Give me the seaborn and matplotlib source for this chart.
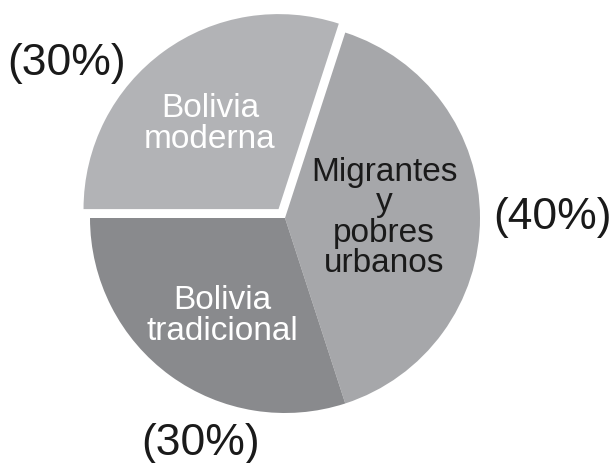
import matplotlib
matplotlib.use("Agg")
import matplotlib.pyplot as plt
import seaborn as sns

# data
groups = ["Bolivia\nmoderna", "Migrantes\ny\npobres\nurbanos", "Bolivia\ntradicional"]
shares = [30, 40, 30]
pct_labels = ["(30%)", "(40%)", "(30%)"]
colors = ["#b2b3b6", "#a6a7aa", "#898a8d"]
text_colors = ["white", "#1a1a1a", "white"]

sns.set_theme(style="white")
plt.rcParams["font.family"] = ["Liberation Sans", "DejaVu Sans"]

W, H = 613, 463
fig = plt.figure(figsize=(W / 100, H / 100), dpi=100)
ax = fig.add_axes([0, 0, 1, 1])

cx, cy, r = 285, H - 218, 195
# explode is in data units here (pixels), first slice pulled out
ax.pie(shares, colors=colors, explode=[11, 0, 0], startangle=180,
       counterclock=False, center=(cx, cy), radius=r,
       wedgeprops=dict(linewidth=0), frame=True)
ax.set_xlim(0, W)
ax.set_ylim(0, H)
ax.set_aspect("equal")
ax.axis("off")

# labels inside the wedges
inner_pos = [(210, 124), (384, 218), (222, 316)]
for (x, y), txt, tc in zip(inner_pos, groups, text_colors):
    ax.text(x, H - y, txt, ha="center", va="center", fontsize=24,
            color=tc, linespacing=0.98)

# percentages outside
pct_pos = [(67, 63), (552, 218), (201, 443)]
for (x, y), txt in zip(pct_pos, pct_labels):
    ax.text(x, H - y, txt, ha="center", va="center", fontsize=32,
            color="#1a1a1a")

fig.savefig("out.png", dpi=100)
